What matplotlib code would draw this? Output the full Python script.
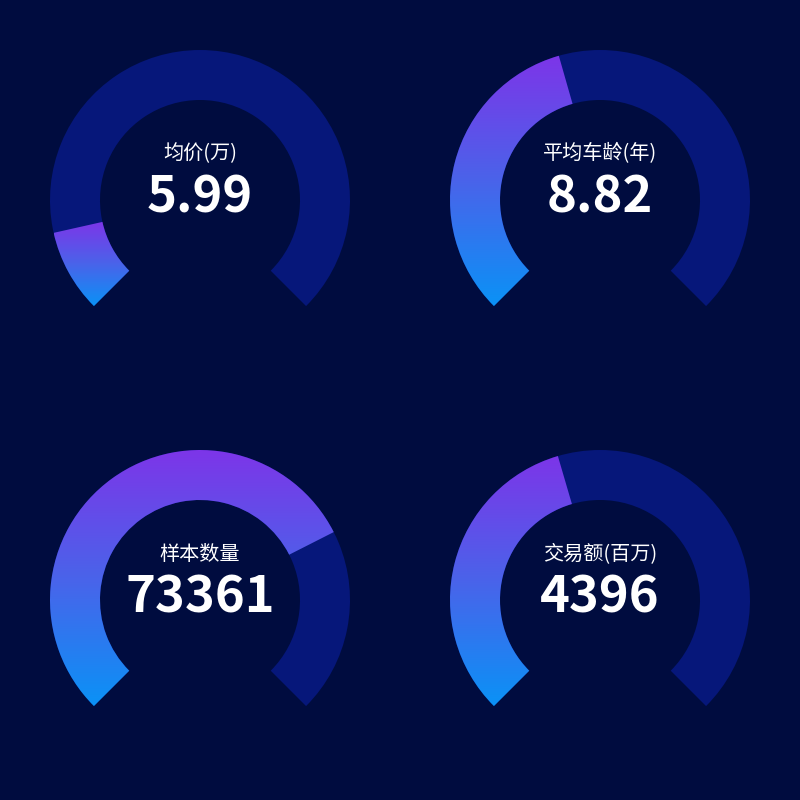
import numpy as np
import matplotlib.pyplot as plt
from matplotlib.patches import Wedge
from matplotlib.colors import LinearSegmentedColormap

plt.rcParams['font.family'] = ['Noto Sans CJK SC', 'DejaVu Sans']

labels = ['均价(万)', '平均车龄(年)', '样本数量', '交易额(百万)']
values = [5.99, 8.82, 73361, 4396]
value_text = ['5.99', '8.82', '73361', '4396']
maxima = [50, 20, 100000, 10000]

bg = '#000c3f'
track = '#06177a'
grad = LinearSegmentedColormap.from_list('g', ['#0a92f6', '#4a63ea', '#7d35e8'])

centers = [(200, 600), (600, 600), (200, 200), (600, 200)]
r_out, ring = 150, 50
start, sweep = 225, 270

fig = plt.figure(figsize=(8, 8), dpi=100, facecolor=bg)
ax = fig.add_axes([0, 0, 1, 1])
ax.set_xlim(0, 800)
ax.set_ylim(0, 800)
ax.set_facecolor(bg)
ax.axis('off')

g = np.linspace(0, 1, 256).reshape(-1, 1)

for (cx, cy), lab, v, vt, m in zip(centers, labels, values, value_text, maxima):
    ax.add_patch(Wedge((cx, cy), r_out, start - sweep, start, width=ring,
                       facecolor=track, edgecolor='none'))
    frac = min(v / m, 1)
    w = Wedge((cx, cy), r_out, start - sweep * frac, start, width=ring,
              facecolor='none', edgecolor='none')
    ax.add_patch(w)
    ext = w.get_path().get_extents()
    im = ax.imshow(g, cmap=grad, origin='lower', aspect='auto',
                   extent=[ext.x0, ext.x1, ext.y0, ext.y1], zorder=2)
    im.set_clip_path(w)
    ax.text(cx, cy + 46, lab, color='white', fontsize=14.5,
            ha='center', va='center', zorder=3)
    ax.text(cx, cy + 2, vt, color='white', fontsize=36.5, fontweight='bold',
            ha='center', va='center', zorder=3)

ax.set_xlim(0, 800)
ax.set_ylim(0, 800)
fig.savefig('out.png', dpi=100, facecolor=bg)
